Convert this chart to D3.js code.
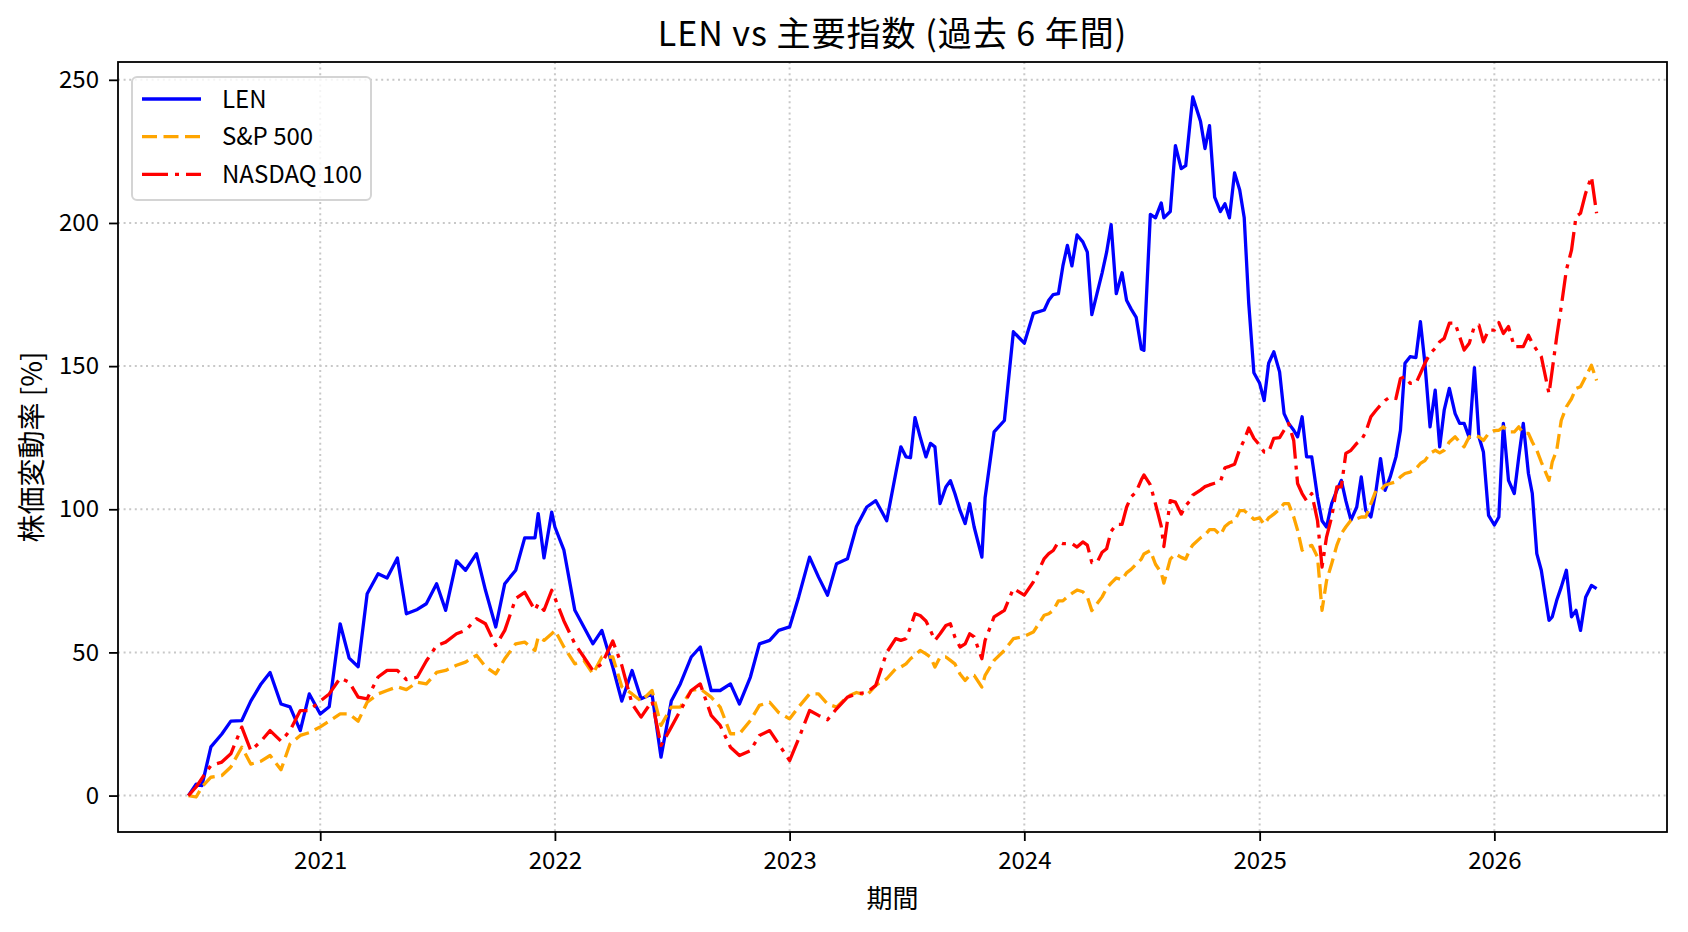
<!DOCTYPE html>
<html>
<head>
<meta charset="utf-8">
<script src="https://cdn.jsdelivr.net/npm/d3@7"></script>
<style>
	body { margin: 0; background: #ffffff; }
	svg text { font-family: "Noto Sans CJK JP", "Noto Sans", sans-serif; fill: #000000; }
</style>
</head>
<body>
<svg id="chart" width="1688" height="932"></svg>
<script>
// sample dates (about twice a month, weekly-ish where the lines move a lot)
const dates = [
	"2020-06-10", "2020-06-22", "2020-07-01", "2020-07-15", "2020-08-01", "2020-08-15", "2020-09-01", "2020-09-15", "2020-10-01", "2020-10-15", "2020-11-01", "2020-11-15", "2020-12-01", "2020-12-15",
	"2021-01-01", "2021-01-15", "2021-02-01", "2021-02-15", "2021-03-01", "2021-03-15", "2021-04-01", "2021-04-15", "2021-05-01", "2021-05-15", "2021-06-01", "2021-06-15", "2021-07-01", "2021-07-15", "2021-08-01", "2021-08-15", "2021-09-01", "2021-09-15", "2021-10-01", "2021-10-15", "2021-11-01", "2021-11-15", "2021-12-01", "2021-12-06", "2021-12-15", "2021-12-27",
	"2022-01-01", "2022-01-15", "2022-02-01", "2022-02-15", "2022-03-01", "2022-03-15", "2022-04-01", "2022-04-15", "2022-05-01", "2022-05-15", "2022-06-01", "2022-06-15", "2022-07-01", "2022-07-15", "2022-08-01", "2022-08-15", "2022-09-01", "2022-09-15", "2022-10-01", "2022-10-15", "2022-11-01", "2022-11-15", "2022-12-01", "2022-12-15",
	"2023-01-01", "2023-01-15", "2023-02-01", "2023-02-15", "2023-03-01", "2023-03-15", "2023-04-01", "2023-04-15", "2023-05-01", "2023-05-15", "2023-06-01", "2023-06-15", "2023-06-23", "2023-07-01", "2023-07-08", "2023-07-15", "2023-07-23", "2023-08-01", "2023-08-08", "2023-08-15", "2023-08-23", "2023-09-01", "2023-09-08", "2023-09-15", "2023-09-23", "2023-10-01", "2023-10-08", "2023-10-15", "2023-10-27", "2023-11-01", "2023-11-15", "2023-12-01", "2023-12-15",
	"2024-01-01", "2024-01-15", "2024-02-01", "2024-02-08", "2024-02-15", "2024-02-23", "2024-03-01", "2024-03-08", "2024-03-15", "2024-03-23", "2024-04-01", "2024-04-08", "2024-04-15", "2024-04-23", "2024-05-01", "2024-05-08", "2024-05-15", "2024-05-23", "2024-06-01", "2024-06-08", "2024-06-15", "2024-06-23", "2024-07-01", "2024-07-05", "2024-07-15", "2024-07-23", "2024-08-01", "2024-08-05", "2024-08-15", "2024-08-23", "2024-09-01", "2024-09-08", "2024-09-15", "2024-09-19", "2024-10-01", "2024-10-08", "2024-10-15", "2024-10-23", "2024-11-01", "2024-11-08", "2024-11-15", "2024-11-23", "2024-12-01", "2024-12-08", "2024-12-15", "2024-12-23",
	"2025-01-01", "2025-01-08", "2025-01-15", "2025-01-23", "2025-02-01", "2025-02-08", "2025-02-15", "2025-02-23", "2025-03-01", "2025-03-08", "2025-03-15", "2025-03-23", "2025-04-01", "2025-04-08", "2025-04-15", "2025-04-23", "2025-05-01", "2025-05-08", "2025-05-15", "2025-05-23", "2025-06-01", "2025-06-08", "2025-06-15", "2025-06-23", "2025-07-01", "2025-07-08", "2025-07-15", "2025-07-23", "2025-08-01", "2025-08-08", "2025-08-15", "2025-08-23", "2025-09-01", "2025-09-08", "2025-09-15", "2025-09-23", "2025-10-01", "2025-10-08", "2025-10-15", "2025-10-23", "2025-11-01", "2025-11-08", "2025-11-15", "2025-11-23", "2025-12-01", "2025-12-08", "2025-12-15", "2025-12-23",
	"2026-01-01", "2026-01-08", "2026-01-15", "2026-01-23", "2026-02-01", "2026-02-08", "2026-02-15", "2026-02-23", "2026-03-01", "2026-03-08", "2026-03-15", "2026-03-27", "2026-04-01", "2026-04-08", "2026-04-15", "2026-04-23", "2026-05-01", "2026-05-08", "2026-05-15", "2026-05-23", "2026-06-01", "2026-06-09"
];

// % change since start, one value per date
const lenValues = [
	0, 4, 3.5, 17, 21.5, 26, 26.2, 33, 39, 43, 32, 31, 22.7, 35.5,
	28.5, 31, 60, 48, 45, 70.5, 77.5, 76, 83, 63.5, 65, 67, 74, 64.7, 82, 78.7, 84.5, 71.7, 58.9, 74, 78.7, 90, 90, 98.5, 83, 99,
	93.8, 85.7, 64.7, 58.9, 53, 57.7, 44.9, 33, 43.7, 33.8, 35.5, 13.4, 33, 39, 48.4, 51.9, 36.7, 36.7, 39, 32, 41.4, 53, 54.2, 57.7,
	58.9, 69.3, 83.3, 76.3, 70, 81, 82.7, 94, 100.8, 103, 96, 112.5, 121.8, 118.3, 118, 132, 125.3, 118.3, 123, 121.8, 102, 107.8, 110, 105.5, 99.6, 95, 102, 93.8, 83.3, 104, 127, 131, 162,
	158, 168.4, 169.6, 173, 175, 175.3, 185, 192.2, 185, 195.8, 193.4, 189.8, 168, 175.3, 182.6, 189.8, 199.4, 175.3, 182.6, 173, 170, 167, 156, 155.5, 203, 201.8, 207, 201.8, 204, 227, 219, 220, 235.5, 244, 235.5, 226, 234, 209, 204, 206.7, 201.8, 217.5, 211.5, 201.8, 172, 147.7,
	144, 138, 151, 155, 148, 133.4, 130, 127.6, 125.3, 132.3, 118.3, 118.3, 104.3, 96, 93.8, 102, 106.6, 110.1, 103, 96.2, 100.8, 111.3, 99.6, 97.3, 106.6, 117.7, 106.6, 111.3, 118.3, 127.6, 151, 153.3, 153, 165.5, 151, 128.8, 141.6, 121.8, 134.6, 142.2, 133.4, 130, 130, 125, 149.5, 125.3, 120, 97.9,
	94.5, 97.3, 130, 110.1, 105.5, 118.3, 130, 112.5, 105.5, 84.5, 78.7, 61.2, 62.4, 68.2, 72.8, 78.7, 62.4, 64.7, 57.7, 69.3, 73.4, 72.3
];

const spValues = [
	0, -0.5, 3, 6.4, 7, 10, 16.9, 11, 12, 14, 9, 18, 21, 22,
	24, 26, 28.5, 28.5, 26, 32.6, 35.5, 36.7, 38, 37, 39.6, 39, 43, 43.7, 45.5, 46.6, 49, 45, 42.5, 47.8, 53, 53.6, 50.7, 55.4, 54.2, 56.5,
	57.7, 51.9, 46, 47.2, 42.5, 48.4, 48.4, 38, 35.5, 33, 36.7, 24.5, 30.9, 30.9, 36.7, 37.3, 34.4, 30.9, 21.6, 21.6, 26.2, 31.5, 32.6, 29,
	26.8, 30.9, 35.5, 35.5, 32, 30.9, 34.6, 36, 35, 38.5, 40.8, 44.3, 44.9, 46, 47.8, 49, 50.7, 49.5, 48.4, 44.9, 48.4, 48.4, 47.2, 46, 42.5, 40.2, 42, 42, 37.9, 42, 47.2, 50.7, 54.8,
	55.6, 57.1, 63, 63.5, 64.7, 68, 68, 69.4, 70.6, 71.8, 71.2, 69.4, 64.6, 67, 69.4, 72.4, 74.2, 76, 75.4, 77.8, 79, 80.8, 82.6, 84.4, 85.6, 80.8, 77.8, 74.2, 82.6, 84.4, 83.2, 82.6, 86.2, 87.5, 90, 91, 92.9, 92.9, 91, 94, 95.3, 95.9, 99.5, 99.5, 98.3, 96.5,
	97, 94.7, 97, 98.3, 100, 102, 102, 97.3, 92.7, 85.7, 86.8, 87.4, 83.3, 64.7, 75, 81, 87.4, 91.5, 93.8, 96.2, 96.7, 97.3, 97.3, 102, 106.6, 106.6, 108.4, 109, 109.6, 111.3, 112.5, 113, 114.2, 116, 117, 119.5, 120.6, 119.7, 120.6, 123.5, 125.3, 123.5, 121.8, 125.3, 125.9, 125.3, 124, 126.5,
	127.5, 127.6, 128.8, 127, 127, 128.8, 126.5, 126.5, 123.5, 120.6, 116.5, 110.1, 116.5, 120.6, 131, 135.8, 138.6, 142.2, 142.8, 146.3, 150.3, 145
];

const ndxValues = [
	0, 3, 6, 10.5, 11.7, 14.6, 23.9, 15.7, 19, 22.7, 19, 22.7, 29.7, 29.7,
	33, 35.5, 41, 39.6, 34.4, 33.8, 41.4, 43.7, 43.7, 40.5, 41.4, 47, 52.4, 53.6, 56.5, 57.7, 61.8, 60, 52.4, 57.7, 68.8, 71, 64.7, 67, 64.7, 71.7,
	69, 61, 53, 48.4, 43.7, 46, 54, 45.5, 32, 27.4, 33, 17.5, 23.9, 29.7, 36.7, 39, 28, 24.5, 16.9, 14, 15.7, 21, 22.7, 18,
	12.2, 19.8, 29.7, 28, 26.5, 30.3, 34.4, 35.5, 36, 38.5, 50, 54.8, 54.2, 54.8, 58.9, 63.5, 62.9, 61, 57.7, 54.2, 56.5, 59.4, 60, 55.4, 51.9, 53, 56.5, 55.4, 47.8, 54.2, 62.4, 64.7, 72.3,
	70, 74.6, 82.8, 84.5, 85.6, 88.6, 88, 88, 88, 86.8, 88.6, 87.5, 81.4, 81.4, 85, 86.2, 92.3, 94.7, 94.7, 100.7, 104.3, 106.1, 110.3, 112, 108.5, 101.9, 94, 87, 103, 102.5, 98.3, 101.3, 103, 104.9, 106.7, 107.9, 108.5, 109.1, 109.7, 114.5, 115, 115.7, 121, 124.2, 128.4, 124.8,
	122.4, 120, 120, 124.8, 125, 127.6, 130, 124, 109, 105.5, 103, 105.5, 96, 79.8, 90.3, 97.3, 107.8, 107.8, 119.5, 120.6, 123, 124.1, 127, 132.3, 134.6, 136.4, 138, 139.3, 138.7, 145.7, 146.3, 144, 144, 147.4, 151, 154.4, 156.2, 158.5, 159.7, 165, 165, 160.3, 155.6, 158, 164, 164.3, 158.5, 162.6,
	162.6, 165.2, 161.4, 163.8, 156.8, 156.8, 156.8, 160.8, 158, 155.6, 153.3, 140.4, 148.6, 160.3, 170.7, 183.6, 190.5, 202.2, 203.4, 210.4, 216.2, 203.4
];

const seriesNames = ["LEN", "S&P 500", "NASDAQ 100"];
const yTicks = [0, 50, 100, 150, 200, 250];
const xTickLabels = ["2021", "2022", "2023", "2024", "2025", "2026"];

const titleText = "LEN vs 主要指数 (過去 6 年間)";
const xLabel = "期間";
const yLabel = "株価変動率 [%]";

//plot box
const margin = { left: 118, right: 1667, top: 62, bottom: 832 };

const parseDate = d3.timeParse("%Y-%m-%d");
const dateObjs = dates.map(parseDate);

const series = [
	{ name: seriesNames[0], values: lenValues, color: "#0000ff", dash: null },
	{ name: seriesNames[1], values: spValues, color: "#ffa500", dash: "15,6.5" },
	{ name: seriesNames[2], values: ndxValues, color: "#ff0000", dash: "26,7,4,7" },
];

const svg = d3.select("#chart");

//scales, 5% padding like matplotlib
const tExt = d3.extent(dateObjs);
const tPad = (tExt[1] - tExt[0]) * 0.05;
const x = d3
	.scaleTime()
	.domain([new Date(+tExt[0] - tPad), new Date(+tExt[1] + tPad)])
	.range([margin.left, margin.right]);

const allValues = lenValues.concat(spValues, ndxValues);
const vMin = d3.min(allValues);
const vMax = d3.max(allValues);
const vPad = (vMax - vMin) * 0.05;
const y = d3
	.scaleLinear()
	.domain([vMin - vPad, vMax + vPad])
	.range([margin.bottom, margin.top]);

const xTickDates = xTickLabels.map((s) => parseDate(s + "-01-01"));

//grid
const grid = svg.append("g").attr("class", "grid");
grid.selectAll("line.gx")
	.data(xTickDates)
	.enter()
	.append("line")
	.attr("x1", (d) => x(d))
	.attr("x2", (d) => x(d))
	.attr("y1", margin.top)
	.attr("y2", margin.bottom);
grid.selectAll("line.gy")
	.data(yTicks)
	.enter()
	.append("line")
	.attr("x1", margin.left)
	.attr("x2", margin.right)
	.attr("y1", (d) => y(d))
	.attr("y2", (d) => y(d));
grid.selectAll("line")
	.attr("stroke", "#c8c8c8")
	.attr("stroke-width", 2)
	.attr("stroke-dasharray", "2,3.6");

//lines
const line = d3
	.line()
	.x((d) => x(d[0]))
	.y((d) => y(d[1]));

const plot = svg.append("g").attr("class", "lines");
series.forEach(function (s) {
	const pts = dateObjs.map((d, i) => [d, s.values[i]]);
	const path = plot
		.append("path")
		.datum(pts)
		.attr("d", line)
		.attr("fill", "none")
		.attr("stroke", s.color)
		.attr("stroke-width", 3.3)
		.attr("stroke-linejoin", "round");
	if (s.dash) path.attr("stroke-dasharray", s.dash);
});

//axes
const xAxis = d3
	.axisBottom(x)
	.tickValues(xTickDates)
	.tickFormat((d, i) => xTickLabels[i])
	.tickSize(9)
	.tickSizeOuter(0)
	.tickPadding(11);
const gx = svg
	.append("g")
	.attr("transform", "translate(0," + margin.bottom + ")")
	.call(xAxis);

const yAxis = d3
	.axisLeft(y)
	.tickValues(yTicks)
	.tickSize(9)
	.tickSizeOuter(0)
	.tickPadding(10);
const gy = svg
	.append("g")
	.attr("transform", "translate(" + margin.left + ",0)")
	.call(yAxis);

[gx, gy].forEach(function (g) {
	g.select(".domain").remove();
	g.attr("font-family", null).attr("font-size", null);
	g.selectAll(".tick line").attr("stroke", "#000").attr("stroke-width", 1.8);
	g.selectAll(".tick text").style("font-size", "24px");
});

//frame
svg.append("rect")
	.attr("x", margin.left)
	.attr("y", margin.top)
	.attr("width", margin.right - margin.left)
	.attr("height", margin.bottom - margin.top)
	.attr("fill", "none")
	.attr("stroke", "#000")
	.attr("stroke-width", 1.8);

//title and labels
svg.append("text")
	.attr("x", (margin.left + margin.right) / 2)
	.attr("y", 46)
	.attr("text-anchor", "middle")
	.style("font-size", "34px")
	.style("letter-spacing", "1px")
	.text(titleText);

svg.append("text")
	.attr("x", (margin.left + margin.right) / 2)
	.attr("y", 908)
	.attr("text-anchor", "middle")
	.style("font-size", "26px")
	.text(xLabel);

svg.append("text")
	.attr("transform", "translate(42," + (margin.top + margin.bottom) / 2 + ") rotate(-90)")
	.attr("text-anchor", "middle")
	.style("font-size", "28px")
	.text(yLabel);

//legend
const legend = svg.append("g").attr("class", "legend");
legend.append("rect")
	.attr("x", 132)
	.attr("y", 77)
	.attr("width", 239)
	.attr("height", 123)
	.attr("rx", 5)
	.attr("fill", "#ffffff")
	.attr("fill-opacity", 0.8)
	.attr("stroke", "#d4d4d4")
	.attr("stroke-width", 2);

series.forEach(function (s, i) {
	const cy = 99 + i * 37.7;
	const l = legend
		.append("line")
		.attr("x1", 142)
		.attr("x2", 201)
		.attr("y1", cy)
		.attr("y2", cy)
		.attr("stroke", s.color)
		.attr("stroke-width", 3.3);
	if (s.dash) l.attr("stroke-dasharray", s.dash);
	legend.append("text")
		.attr("x", 222)
		.attr("y", cy)
		.attr("dy", "0.36em")
		.style("font-size", "24px")
		.text(s.name);
});
</script>
</body>
</html>
